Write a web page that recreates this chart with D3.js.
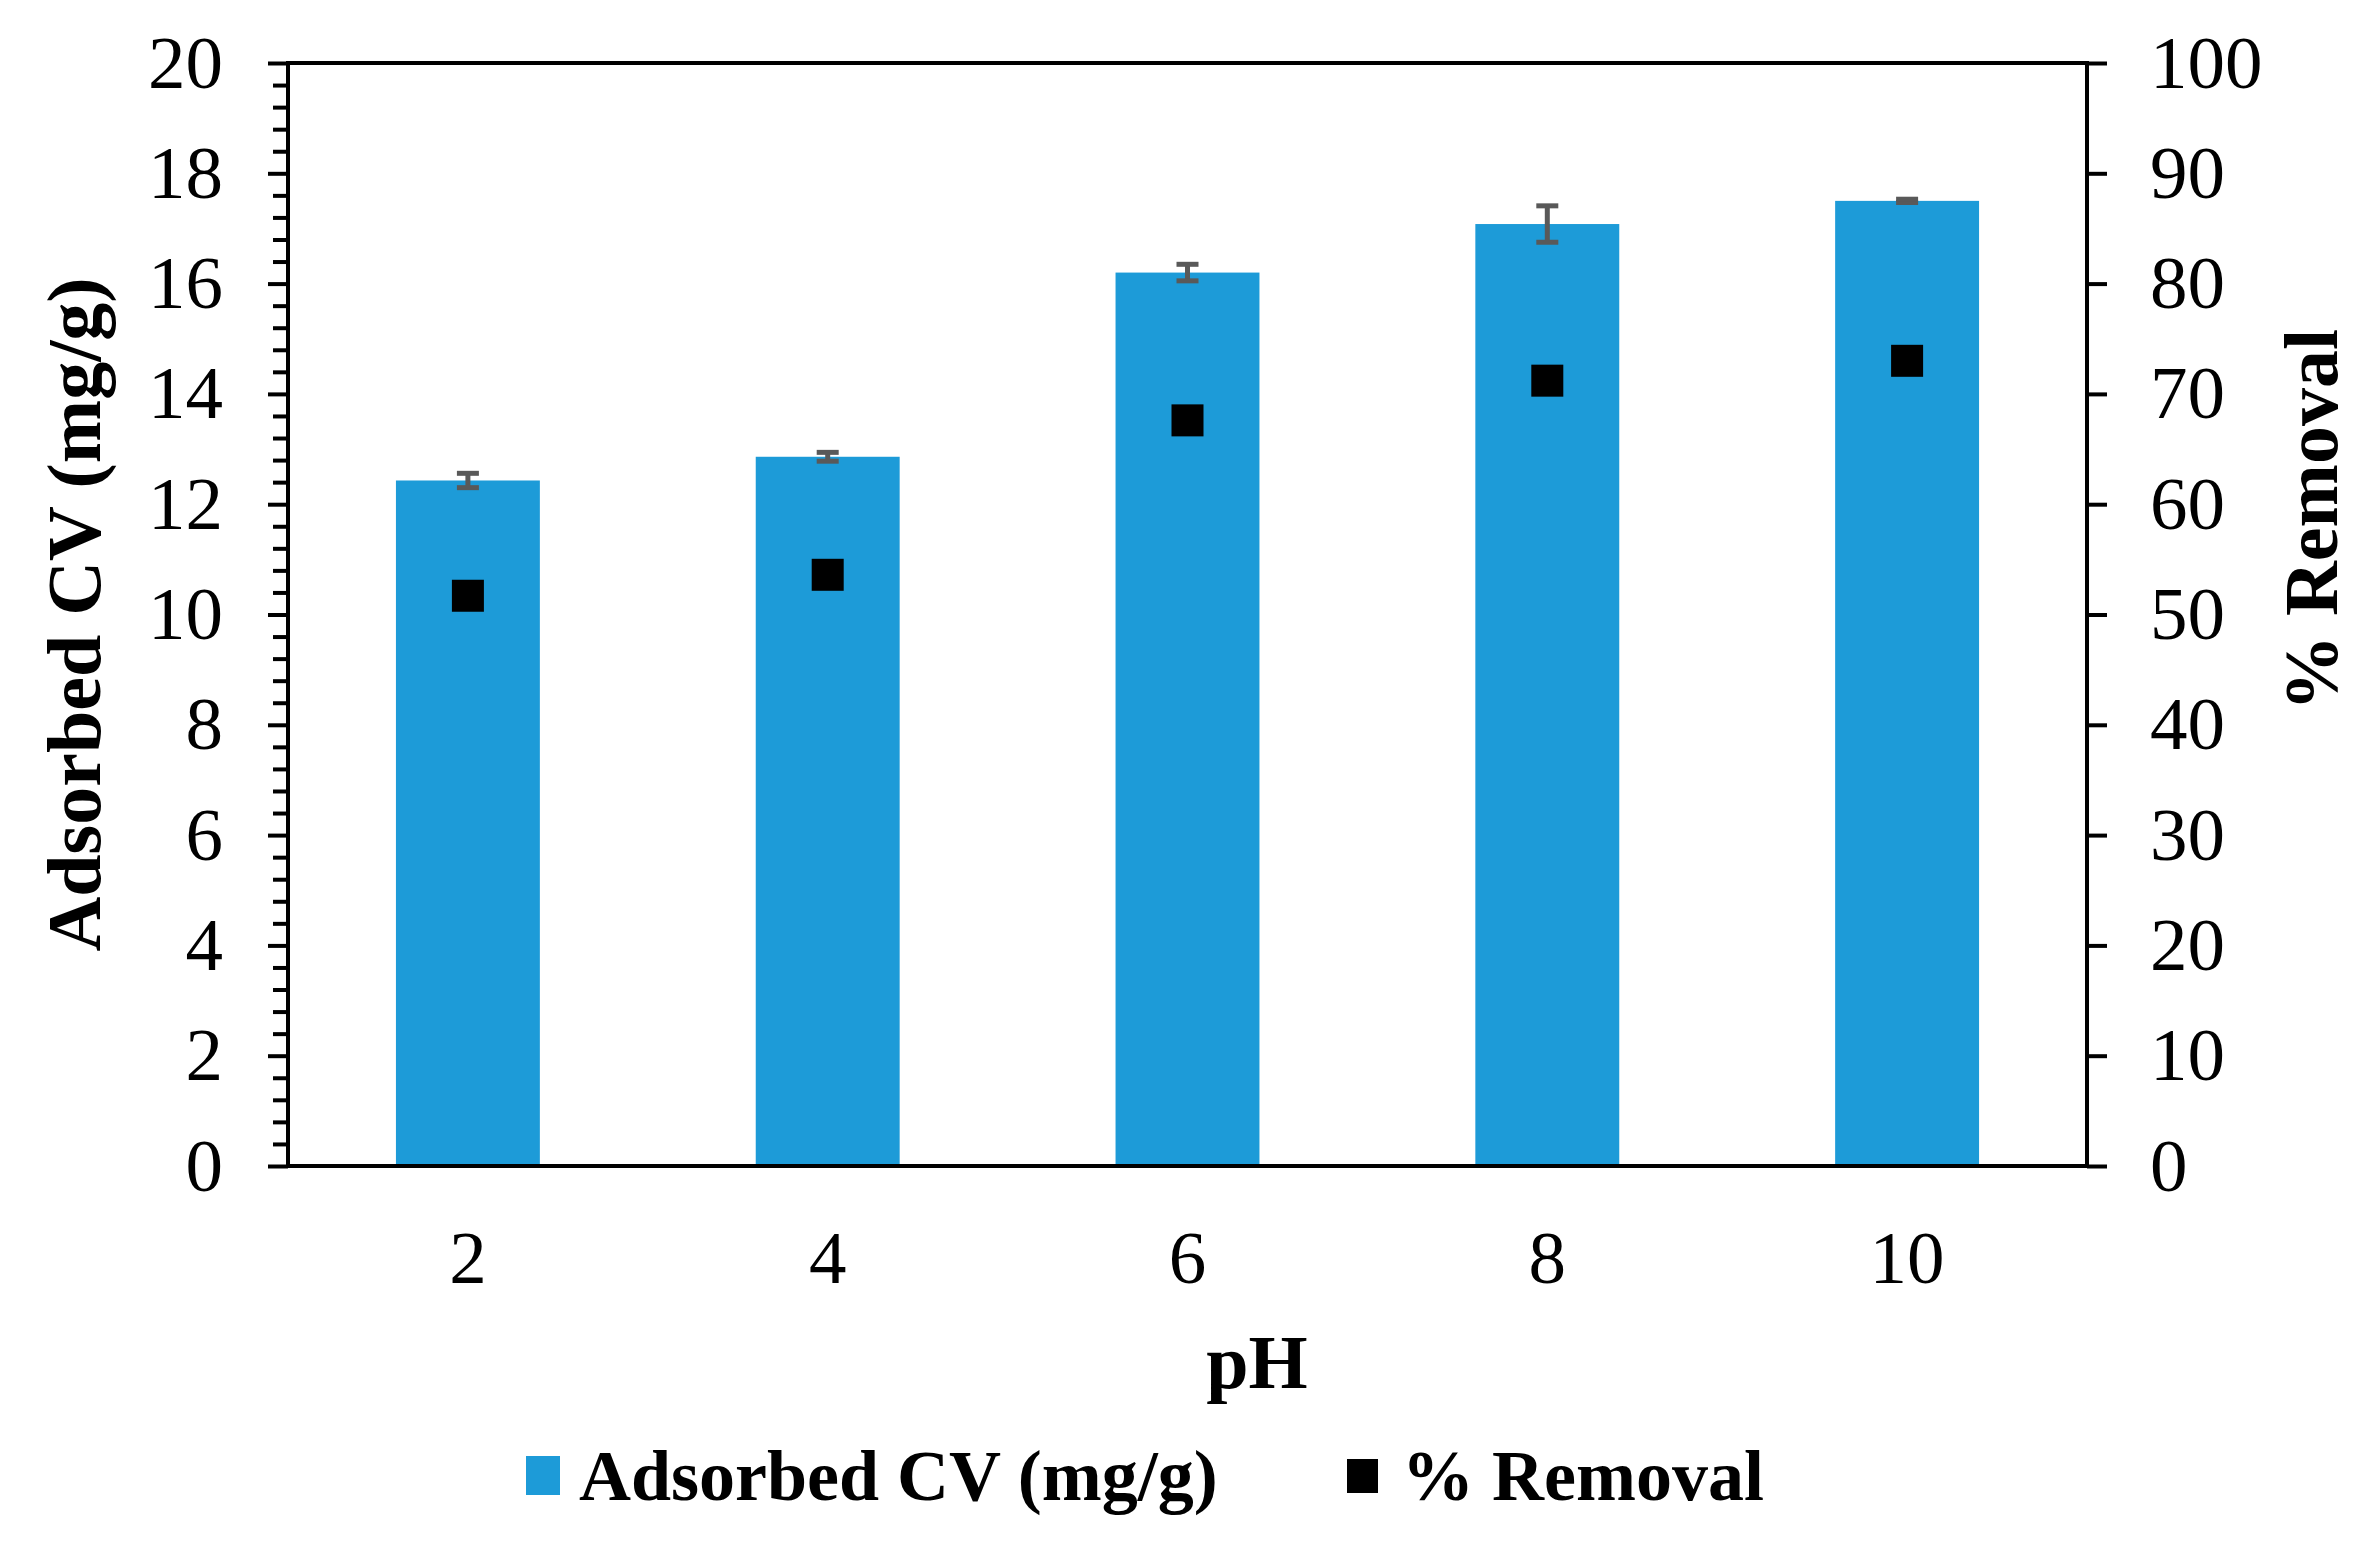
<!DOCTYPE html>
<html>
<head>
<meta charset="utf-8">
<script src="https://cdn.jsdelivr.net/npm/d3@7"></script>
<style>
  body { margin: 0; background: #fff; overflow: hidden; }
  svg { display: block; }
</style>
</head>
<body>
<svg width="2380" height="1551"></svg>
<script>
  const categories = ['2', '4', '6', '8', '10'];
  const adsorbed = [12.43, 12.86, 16.2, 17.08, 17.5];
  const adsorbedErr = [0.13, 0.08, 0.15, 0.33, 0.03];
  const removal = [51.7, 53.6, 67.6, 71.2, 73.0];
  const leftTicks = [0, 2, 4, 6, 8, 10, 12, 14, 16, 18, 20];
  const rightTicks = [0, 10, 20, 30, 40, 50, 60, 70, 80, 90, 100];

  const font = '"Liberation Serif", "Times New Roman", serif';
  const svg = d3.select('svg');
  const width = +svg.attr('width');
  const height = +svg.attr('height');

  svg.append('rect').attr('width', width).attr('height', height).attr('fill', '#fff');

  const margin = { top: 63, right: 293, bottom: 385, left: 288 };
  const innerWidth = width - margin.left - margin.right;
  const innerHeight = height - margin.top - margin.bottom;

  const g = svg.append('g')
    .attr('transform', `translate(${margin.left},${margin.top})`);

  const xScale = d3.scaleBand()
    .domain(categories)
    .range([0, innerWidth])
    .paddingInner(0.6)
    .paddingOuter(0.3);

  const yScale = d3.scaleLinear().domain([0, 20]).range([innerHeight, 0]);
  const y2Scale = d3.scaleLinear().domain([0, 100]).range([innerHeight, 0]);

  // bars
  g.selectAll('.bar').data(adsorbed).enter().append('rect')
    .attr('class', 'bar')
    .attr('x', (d, i) => xScale(categories[i]))
    .attr('y', d => yScale(d))
    .attr('width', xScale.bandwidth())
    .attr('height', d => innerHeight - yScale(d))
    .attr('fill', '#1d9bd8');

  // error bars
  const errG = g.append('g').attr('stroke', '#595959').attr('stroke-width', 5);
  adsorbed.forEach((v, i) => {
    const cx = xScale(categories[i]) + xScale.bandwidth() / 2;
    const lo = yScale(v - adsorbedErr[i]);
    const hi = yScale(v + adsorbedErr[i]);
    errG.append('line').attr('x1', cx).attr('x2', cx).attr('y1', lo).attr('y2', hi);
    errG.append('line').attr('x1', cx - 11).attr('x2', cx + 11).attr('y1', lo).attr('y2', lo);
    errG.append('line').attr('x1', cx - 11).attr('x2', cx + 11).attr('y1', hi).attr('y2', hi);
  });

  // % removal markers
  const mSize = 32;
  g.selectAll('.marker').data(removal).enter().append('rect')
    .attr('class', 'marker')
    .attr('x', (d, i) => xScale(categories[i]) + xScale.bandwidth() / 2 - mSize / 2)
    .attr('y', d => y2Scale(d) - mSize / 2)
    .attr('width', mSize)
    .attr('height', mSize)
    .attr('fill', '#000');

  // left axis, minor ticks then major
  const minorTicks = d3.range(0, 20.01, 0.4).filter(v => Math.abs(v / 2 - Math.round(v / 2)) > 0.01);
  const yMinorG = g.append('g').call(d3.axisLeft(yScale).tickValues(minorTicks).tickSize(15).tickFormat(''));
  yMinorG.selectAll('text').remove();
  const yAxisG = g.append('g').call(d3.axisLeft(yScale).tickValues(leftTicks).tickSize(20).tickPadding(45));
  const y2AxisG = g.append('g')
    .attr('transform', `translate(${innerWidth},0)`)
    .call(d3.axisRight(y2Scale).tickValues(rightTicks).tickSize(20).tickPadding(43));
  const xAxisG = g.append('g')
    .attr('transform', `translate(0,${innerHeight})`)
    .call(d3.axisBottom(xScale).tickSize(0).tickPadding(64));

  [yMinorG, yAxisG, y2AxisG, xAxisG].forEach(a => {
    a.select('.domain').remove();
    a.selectAll('line').attr('stroke', '#000').attr('stroke-width', 4);
    a.attr('font-family', font).attr('font-size', 75);
    a.selectAll('text').attr('fill', '#000');
  });

  // frame lines
  const frame = g.append('g').attr('stroke', '#000').attr('stroke-width', 4).attr('stroke-linecap', 'square');
  frame.append('line').attr('x1', 0).attr('x2', innerWidth).attr('y1', 0).attr('y2', 0);
  frame.append('line').attr('x1', 0).attr('x2', innerWidth).attr('y1', innerHeight).attr('y2', innerHeight);
  frame.append('line').attr('x1', 0).attr('x2', 0).attr('y1', 0).attr('y2', innerHeight);
  frame.append('line').attr('x1', innerWidth).attr('x2', innerWidth).attr('y1', 0).attr('y2', innerHeight);

  // axis titles
  const titleText = sel => sel
    .attr('font-family', font)
    .attr('font-size', 76)
    .attr('font-weight', 'bold')
    .attr('fill', '#000')
    .attr('text-anchor', 'middle');

  svg.append('text')
    .call(titleText)
    .attr('transform', `translate(100,${margin.top + innerHeight / 2}) rotate(-90)`)
    .text('Adsorbed CV (mg/g)');

  svg.append('text')
    .call(titleText)
    .attr('transform', 'translate(2337,520) rotate(-90)')
    .text('% Removal');

  svg.append('text')
    .call(titleText)
    .attr('x', 1257)
    .attr('y', 1388)
    .text('pH');

  // legend
  const legend = svg.append('g')
    .attr('transform', 'translate(0,1500)')
    .attr('font-family', font)
    .attr('font-size', 72)
    .attr('font-weight', 'bold');
  legend.append('rect').attr('x', 526).attr('y', -44).attr('width', 34).attr('height', 39).attr('fill', '#1d9bd8');
  legend.append('text').attr('x', 579).attr('y', 0).text('Adsorbed CV (mg/g)');
  legend.append('rect').attr('x', 1347).attr('y', -41).attr('width', 31).attr('height', 34).attr('fill', '#000');
  legend.append('text').attr('x', 1402).attr('y', 0).text('% Removal');
</script>
</body>
</html>
